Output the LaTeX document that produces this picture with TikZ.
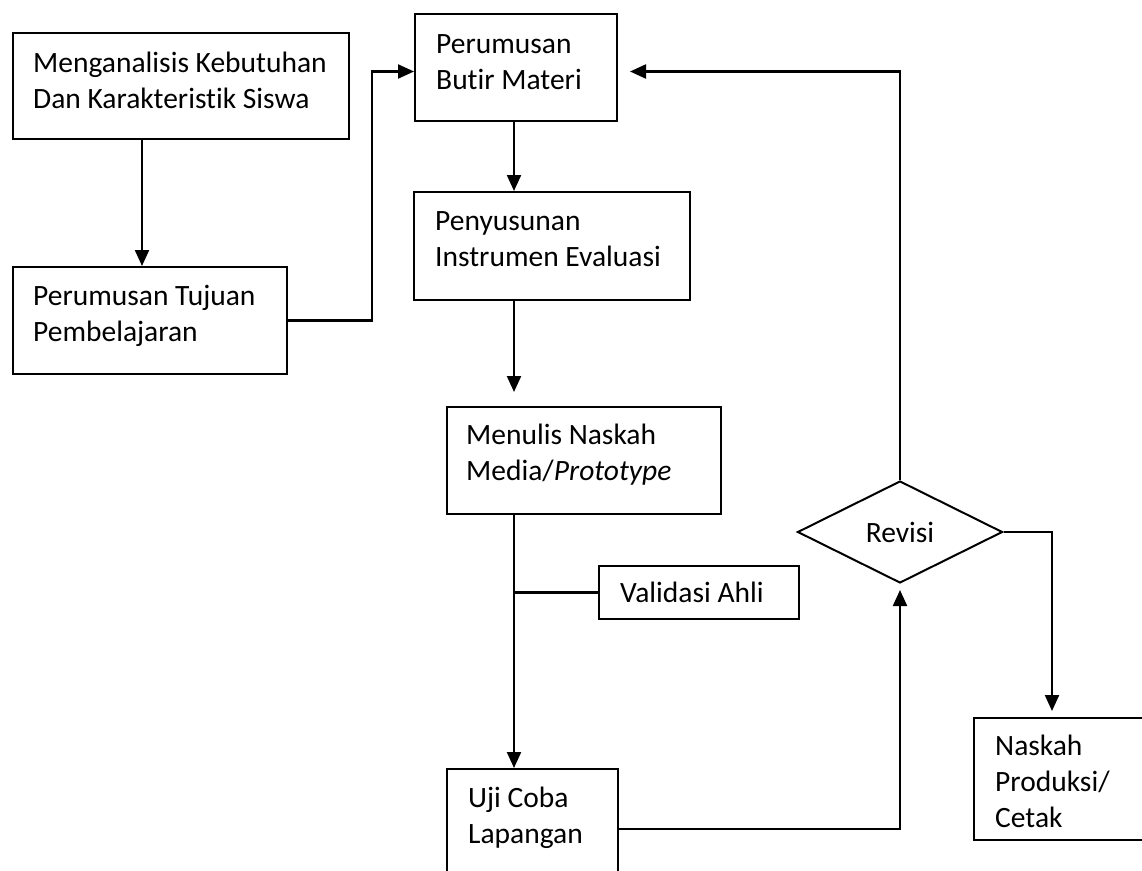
\documentclass[tikz,border=0pt]{standalone}
\usepackage{fontspec}
\setmainfont{Carlito}[Ligatures={NoCommon}]
\usetikzlibrary{shapes.geometric,arrows.meta}
\newcommand\mlines[1]{\vtop{#1}}
\begin{document}
\begin{tikzpicture}[x=1pt,y=-1pt,
  box/.style={draw, line width=2pt, rectangle, anchor=north west, inner sep=0pt},
  lbl/.style={anchor=base west, inner sep=0pt, font=\fontsize{29.5}{36}\selectfont},
  conn/.style={line width=2.2pt},
  arr/.style={conn, -{Triangle[length=16pt,width=14pt]}},
  dec/.style={draw, diamond, aspect=2, line width=2pt, inner sep=0pt,
    minimum width=205pt, minimum height=102pt, font=\fontsize{29.5}{36}\selectfont}
  ]
\clip (0,0) rectangle (1142,870);
\fill[white] (0,0) rectangle (1142,870);
% boxes
\node[box, minimum width=336pt, minimum height=106pt] (b1) at (12,32) {};
\node[box, minimum width=274pt, minimum height=107pt] (b2) at (12,266) {};
\node[box, minimum width=202pt, minimum height=107pt] (b3) at (414,13) {};
\node[box, minimum width=276pt, minimum height=108pt] (b4) at (413,191) {};
\node[box, minimum width=274pt, minimum height=107pt] (b5) at (446,406) {};
\node[box, minimum width=200pt, minimum height=53pt] (bv) at (598,565) {};
\node[box, minimum width=171pt, minimum height=120pt] (b7) at (446,768) {};
\node[box, minimum width=190pt, minimum height=122pt] (b9) at (973,717) {};
\node[dec] (dia) at (900,532) {Revisi};
% texts
\node[lbl] (t1) at ([shift={(21pt,-40pt)}]b1.north west)
  {\mlines{\hbox{Menganalisis Kebutuhan}\hbox{Dan Karakteristik Siswa}}};
\node[lbl] (t2) at ([shift={(21pt,-39pt)}]b2.north west)
  {\mlines{\hbox{Perumusan Tujuan}\hbox{Pembelajaran}}};
\node[lbl] (t3) at ([shift={(22pt,-40pt)}]b3.north west)
  {\mlines{\hbox{Perumusan}\hbox{Butir Materi}}};
\node[lbl] (t4) at ([shift={(22pt,-39pt)}]b4.north west)
  {\mlines{\hbox{Penyusunan}\hbox{Instrumen Evaluasi}}};
\node[lbl] (t5) at ([shift={(20pt,-38pt)}]b5.north west)
  {\mlines{\hbox{Menulis Naskah}\hbox{Media/\textit{Prototype}}}};
\node[lbl] (tv) at ([shift={(22pt,-37pt)}]bv.north west) {Validasi Ahli};
\node[lbl] (t7) at ([shift={(22pt,-39pt)}]b7.north west)
  {\mlines{\hbox{Uji Coba}\hbox{Lapangan}}};
\node[lbl] (t9) at ([shift={(22pt,-38pt)}]b9.north west)
  {\mlines{\hbox{Naskah}\hbox{Produksi/}\hbox{Cetak}}};
% connectors
\draw[arr] ([xshift=130pt]b1.south west) -- ([xshift=130pt]b2.north west);
\draw[arr] (b2.east) -- ++(84,0) |- ([yshift=-4pt]b3.west);
\draw[arr] ([xshift=100pt]b3.south west) -- ([xshift=101pt]b4.north west);
\draw[arr, shorten >=14pt] ([xshift=101pt]b4.south west) -- ([xshift=68pt]b5.north west);
\draw[arr] ([xshift=68pt]b5.south west) -- ([xshift=68pt]b7.north west);
\draw[conn] (bv.west) -- ([xshift=68pt]b5.south west |- bv.west);
\draw[arr, shorten >=6pt] (b7.east) -| (dia.south);
\draw[arr, shorten >=12pt] (dia.north) |- ([yshift=-4pt]b3.east);
\draw[arr, shorten >=6pt] (dia.east) -| ([xshift=79pt]b9.north west);
\end{tikzpicture}
\end{document}
